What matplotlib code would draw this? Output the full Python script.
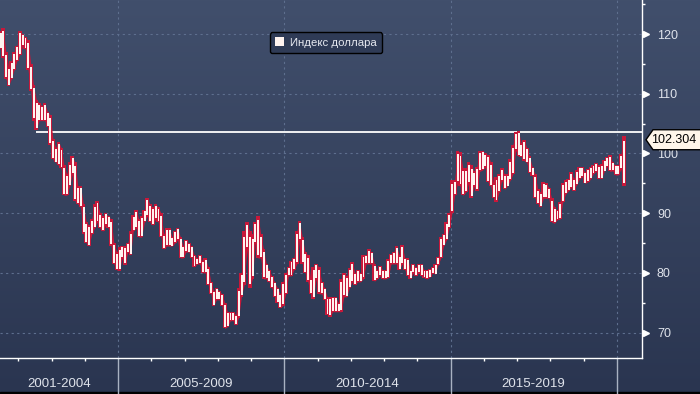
import numpy as np
import pandas as pd
import matplotlib
matplotlib.use("Agg")
import matplotlib.pyplot as plt
import matplotlib.transforms as mtransforms
from matplotlib.colors import LinearSegmentedColormap
from matplotlib.patches import Patch, Polygon
from matplotlib.ticker import MultipleLocator

plt.rcParams["font.family"] = ["Liberation Sans", "DejaVu Sans"]

# monthly high / low of the dollar index, Jun 2001 .. Mar 2020
months = pd.date_range("2001-06-01", "2020-03-01", freq="MS")
highs = [
    120.5, 121.0, 117.0, 114.5, 115.5, 117.0, 118.0,                      # 2001
    120.5, 120.0, 119.5, 119.0, 115.0, 111.5, 109.0, 108.5, 108.0, 108.5, 107.0, 106.5,
    102.5, 101.0, 102.0, 101.0, 98.0, 96.5, 98.5, 99.5, 98.5, 94.5, 94.5, 91.5,
    88.5, 88.0, 89.0, 91.5, 92.0, 90.0, 89.5, 90.0, 89.5, 89.0, 85.0, 83.5,
    84.3, 84.5, 84.5, 85.0, 87.0, 89.7, 90.5, 89.0, 89.5, 90.5, 92.6, 91.5,
    91.0, 91.5, 91.0, 90.0, 86.5, 87.5, 87.5, 86.0, 87.0, 87.5, 86.0, 84.5,
    85.5, 85.0, 84.5, 83.0, 82.5, 83.0, 82.0, 82.5, 81.0, 78.5, 77.0, 77.5,
    77.0, 76.5, 75.0, 73.5, 73.5, 73.5, 73.0, 77.5, 80.0, 87.0, 88.5, 87.0,
    86.5, 88.5, 89.6, 86.5, 84.0, 81.5, 80.5, 79.5, 78.5, 77.5, 76.5, 78.5,
    80.0, 81.0, 82.0, 82.5, 87.0, 88.7, 86.0, 83.5, 83.0, 79.0, 81.0, 81.5,
    81.0, 78.5, 77.5, 76.0, 76.0, 76.0, 76.0, 75.0, 79.0, 80.0, 79.5, 80.8,
    81.8, 80.0, 80.5, 80.0, 83.0, 83.0, 84.0, 83.5, 81.5, 80.5, 81.2, 80.5,
    80.5, 82.3, 83.2, 83.5, 84.5, 83.0, 84.7, 82.5, 82.5, 80.5, 81.5, 81.0,
    81.5, 81.5, 80.5, 80.5, 80.6, 81.0, 81.5, 82.6, 86.0, 86.5, 88.5, 90.0,
    95.5, 95.5, 100.4, 100.2, 97.5, 97.5, 98.5, 98.0, 97.0, 97.8, 100.5, 100.5,
    100.0, 99.8, 98.5, 95.0, 96.0, 96.5, 97.5, 96.5, 96.5, 99.0, 101.5, 103.6,
    103.8, 101.7, 102.3, 101.0, 99.5, 97.8, 96.5, 94.0, 93.5, 95.2, 95.0, 94.3,
    92.5, 91.0, 90.5, 91.9, 95.0, 95.5, 95.7, 96.9, 95.8, 97.2, 97.7, 97.7,
    96.9, 97.4, 97.7, 98.0, 98.4, 98.0, 98.2, 98.9, 99.4, 99.7, 98.5, 98.0,
    98.0, 99.9, 103.0,                                                     # 2020
]
lows = [
    117.5, 116.0, 112.5, 111.3, 112.5, 114.0, 115.5,
    116.5, 118.0, 117.5, 114.0, 110.5, 105.5, 104.0, 105.5, 105.5, 105.5, 104.5, 101.5,
    99.0, 98.5, 98.0, 97.5, 93.0, 93.0, 94.5, 96.5, 92.0, 91.5, 91.0, 86.5,
    85.0, 84.5, 86.5, 87.5, 88.5, 87.5, 87.0, 88.0, 87.5, 84.5, 81.5, 80.5,
    80.4, 82.5, 81.4, 83.5, 83.0, 87.0, 87.5, 86.0, 86.0, 88.5, 89.5, 88.5,
    88.0, 89.0, 88.5, 86.0, 84.0, 84.5, 84.5, 84.5, 85.0, 85.5, 82.5, 82.5,
    83.5, 83.5, 82.5, 81.0, 81.5, 81.5, 80.0, 80.0, 78.0, 76.5, 74.5, 75.5,
    75.5, 74.5, 70.7, 71.0, 72.0, 72.0, 71.3, 72.5, 76.0, 78.0, 84.0, 77.5,
    79.0, 85.0, 82.5, 82.5, 79.0, 79.0, 78.5, 77.5, 76.0, 75.0, 74.2, 74.5,
    76.5, 79.5, 79.5, 80.5, 81.5, 85.5, 81.5, 80.0, 78.5, 76.5, 75.6, 79.0,
    76.5, 76.5, 75.5, 73.0, 72.7, 73.5, 73.5, 73.5, 73.5, 76.0, 76.0, 77.5,
    78.5, 78.0, 78.5, 78.5, 79.0, 81.5, 81.5, 81.5, 78.6, 79.0, 79.5, 79.0,
    79.0, 79.2, 81.5, 81.5, 81.5, 80.5, 81.5, 80.5, 79.5, 79.0, 80.0, 79.5,
    80.0, 79.5, 79.2, 79.0, 79.3, 80.0, 79.8, 81.4, 82.5, 84.5, 85.5, 87.5,
    90.0, 93.0, 95.0, 94.5, 93.0, 93.5, 95.0, 92.6, 94.5, 93.8, 97.0, 97.2,
    97.7, 95.2, 94.5, 92.5, 91.9, 93.5, 95.5, 94.0, 94.5, 95.5, 96.5, 100.5,
    99.5, 99.5, 98.8, 98.5, 96.8, 96.3, 92.5, 91.6, 91.0, 92.5, 92.5, 92.5,
    88.5, 88.3, 88.9, 89.0, 91.8, 93.2, 93.7, 94.3, 93.8, 94.8, 95.7, 96.1,
    95.0, 95.2, 95.7, 96.6, 97.0, 95.8, 95.8, 97.0, 97.9, 97.0, 97.1, 96.4,
    96.4, 97.4, 94.6,
]
last_price = 102.304
peak_level = 103.6
series_name = "Индекс доллара"
period_labels = ["2001-2004", "2005-2009", "2010-2014", "2015-2019"]
period_edges = [2001, 2005, 2010, 2015, 2020]

t = months.year + (months.month - 0.5) / 12
hi = np.array(highs)
lo = np.array(lows)

RED = "#c8183a"
WHITE = "#fff4f0"
TXT = "#dfe3eb"

fig = plt.figure(figsize=(7, 3.94), dpi=100)

# background gradient
bg = fig.add_axes([0, 0, 1, 1], zorder=0)
cmap = LinearSegmentedColormap.from_list("bg", ["#414f6c", "#2a3550"])
bg.imshow(np.linspace(0, 1, 256).reshape(-1, 1), aspect="auto", cmap=cmap,
          extent=[0, 1, 0, 1], origin="upper")
bg.axhspan(0, 2 / 394, color="black")
bg.set_xlim(0, 1)
bg.set_ylim(0, 1)
bg.axis("off")

ax = fig.add_axes([0, 36 / 394, 641.7 / 700, 358 / 394], zorder=1)
ax.patch.set_alpha(0)
ax.set_xlim(2001.45, 2020.75)
ax.set_ylim(65.76, 125.7)

# high/low range: red band, red bars, white core
rng = hi - lo
ax.fill_between(t, lo, hi, color=RED, lw=0, zorder=2.5)
ax.bar(t, rng, bottom=lo, width=1.35 / 12, color=RED, lw=0, zorder=3)
ax.bar(t + 0.1 / 12, rng * 0.84, bottom=lo + rng * 0.06, width=0.7 / 12,
       color=WHITE, lw=0, zorder=4)

ax.hlines(peak_level, 2002.53, 2020.75, color="white", lw=1.3, zorder=2)

# grid
ax.set_yticks(range(70, 121, 10))
ax.yaxis.set_minor_locator(MultipleLocator(5))
ax.set_xticks(period_edges[1:])
ax.set_xticklabels([])
ax.set_xticks(range(2002, 2021), minor=True)
ax.grid(True, which="major", ls=(0, (2, 3)), color="#5e6f8e", lw=0.8)

for s in ["left", "top"]:
    ax.spines[s].set_visible(False)
for s in ["right", "bottom"]:
    ax.spines[s].set_color("white")
    ax.spines[s].set_linewidth(1)

ax.yaxis.tick_right()
ax.tick_params(axis="y", which="major", length=0, pad=11, labelsize=9, labelcolor=TXT)
ax.tick_params(axis="y", which="minor", length=2.5, width=1, color="white")
ax.tick_params(axis="x", which="major", length=26, width=1, color="#a9b2c2")
ax.tick_params(axis="x", which="minor", length=2.5, width=1, color="white")

# triangle markers on the value axis
tri = mtransforms.offset_copy(mtransforms.blended_transform_factory(ax.transAxes, ax.transData),
                              fig=fig, x=4, y=0, units="dots")
ax.plot([1.0] * 6, list(range(70, 121, 10)), ls="none", marker=">", ms=4.5,
        color="white", transform=tri, clip_on=False)

# period labels under the axis
lab_tr = mtransforms.blended_transform_factory(ax.transData, ax.transAxes)
x0 = ax.get_xlim()[0]
for name, a, b in zip(period_labels, period_edges[:-1], period_edges[1:]):
    ax.text((max(a, x0) + b) / 2, -0.072, name, transform=lab_tr, ha="center",
            va="center", fontsize=9.5, color=TXT)

# legend
leg = ax.legend(handles=[Patch(facecolor=WHITE, edgecolor="none")], labels=[series_name],
                loc="center", bbox_to_anchor=(0.508, 0.881), fontsize=8.2,
                labelcolor="#e6e9f0", facecolor="#2f3b56", edgecolor="black",
                framealpha=1, handlelength=0.8, handleheight=0.8, handletextpad=0.5,
                borderpad=0.45)
leg.get_frame().set_linewidth(1)

# last price tag
yc = ax.transData.transform((2010, last_price))[1]
tag = Polygon([(646, yc), (653, yc + 10), (702, yc + 10), (702, yc - 10), (653, yc - 10)],
              closed=True, facecolor="#fff6ea", edgecolor="black", lw=1,
              transform=mtransforms.IdentityTransform(), zorder=10)
fig.add_artist(tag)
fig.text(674 / 700, yc / 394, f"{last_price:.3f}", ha="center", va="center",
         fontsize=9, color="black", zorder=11)

fig.savefig("out.png", dpi=100)
